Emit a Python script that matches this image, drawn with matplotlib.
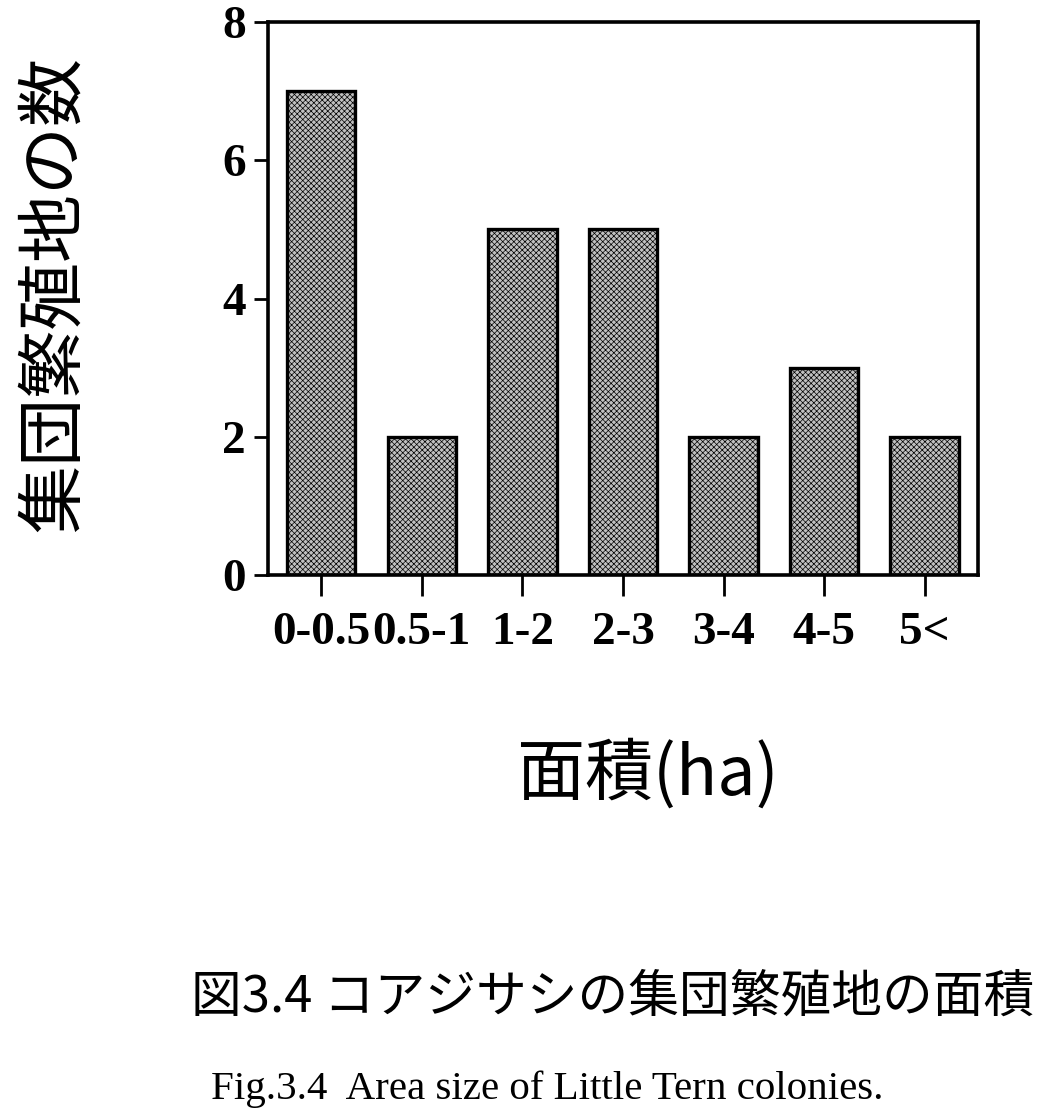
import numpy as np
import matplotlib
matplotlib.use("Agg")
import matplotlib.pyplot as plt

# Data
categories = ["0-0.5", "0.5-1", "1-2", "2-3", "3-4", "4-5", "5<"]
counts = [7, 2, 5, 5, 2, 3, 2]
yticks = [0, 2, 4, 6, 8]

plt.rcParams['hatch.linewidth'] = 0.5
jp = ['Noto Sans CJK JP', 'DejaVu Sans']
serif = ['Liberation Serif', 'DejaVu Serif']

fig = plt.figure(figsize=(10.55, 11.16), dpi=100)
ax = fig.add_axes([0.254, 0.485, 0.673, 0.495])

x = np.arange(len(categories))
ax.bar(x, counts, width=0.68, facecolor='#c0c0c0', edgecolor='black',
       linewidth=2.4, hatch='xxxxxx')

ax.set_xlim(-0.53, 6.53)
ax.set_ylim(0, 8)
ax.set_xticks(x)
ax.set_xticklabels(categories)
ax.set_yticks(yticks)

for s in ax.spines.values():
    s.set_linewidth(2.6)
ax.tick_params(axis='both', direction='out', width=2, colors='black')
ax.tick_params(axis='x', length=15, pad=12)
ax.tick_params(axis='y', length=10, pad=6)
for lab in ax.get_xticklabels() + ax.get_yticklabels():
    lab.set_family(serif)
    lab.set_fontweight('bold')
    lab.set_fontsize(34)

# Axis titles
fig.text(0.052, 0.737, "集団繁殖地の数", rotation=90, ha='center', va='center',
         family=jp, fontsize=49)
fig.text(0.614, 0.305, "面積(ha)", ha='center', va='center',
         family=jp, fontsize=49)

# Captions
fig.text(0.581, 0.106, "図3.4 コアジサシの集団繁殖地の面積", ha='center', va='center',
         family=jp, fontsize=36.5)
fig.text(0.519, 0.024, "Fig.3.4  Area size of Little Tern colonies.", ha='center',
         va='center', family=serif, fontsize=29.5)

fig.savefig("out.png", dpi=100, facecolor='white')
